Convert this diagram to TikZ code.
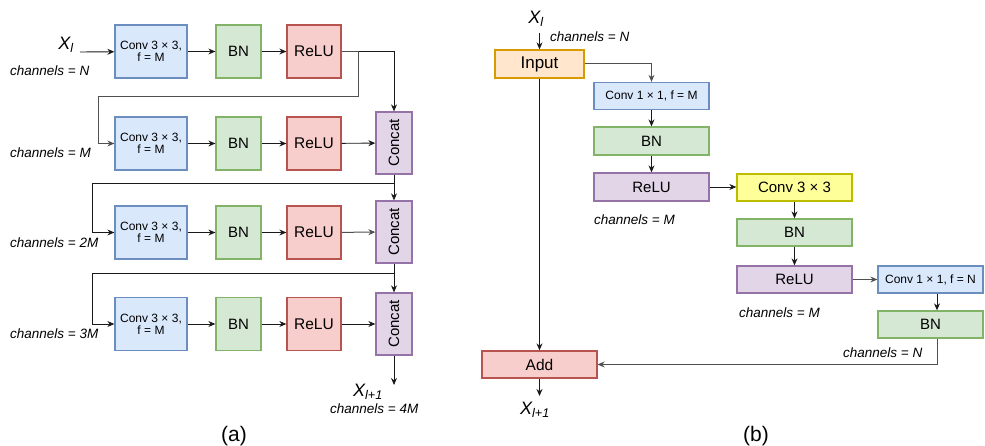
\documentclass[tikz,border=0pt]{standalone}
\usepackage{fontspec}
\usepackage{graphicx}
\setmainfont{Liberation Sans}
\usetikzlibrary{arrows.meta}
\newcommand\myfs[1]{\fontsize{#1}{#1}\selectfont}
\definecolor{bfill}{HTML}{DAE8FC}\definecolor{bdraw}{HTML}{6C8EBF}
\definecolor{gfill}{HTML}{D5E8D4}\definecolor{gdraw}{HTML}{82B366}
\definecolor{rfill}{HTML}{F8CECC}\definecolor{rdraw}{HTML}{B85450}
\definecolor{pfill}{HTML}{E1D5E7}\definecolor{pdraw}{HTML}{9673A6}
\definecolor{ofill}{HTML}{FFE6CC}\definecolor{odraw}{HTML}{D79B00}
\definecolor{yfill}{HTML}{FFFF99}\definecolor{ydraw}{HTML}{BDBD00}
\definecolor{lgray}{HTML}{505050}
\tikzset{
  bx/.style={draw, line width=1.3pt, inner sep=0pt, align=center, font=\myfs{12}},
  blu/.style={bx, fill=bfill, draw=bdraw},
  grn/.style={bx, fill=gfill, draw=gdraw, font=\myfs{15}},
  red/.style={bx, fill=rfill, draw=rdraw, font=\myfs{15.5}},
  pur/.style={bx, fill=pfill, draw=pdraw, font=\myfs{15}},
  org/.style={bx, fill=ofill, draw=odraw, font=\myfs{17}},
  yel/.style={bx, fill=yfill, draw=ydraw, font=\myfs{15}},
  abox/.style={minimum width=#1, minimum height=53},
  bbox/.style={minimum width=#1, minimum height=27},
  arr/.style={-{Stealth[length=7pt,width=6pt]}, line width=0.9pt, draw=black!90},
  garr/.style={arr, draw=lgray, line width=1pt},
  lbl/.style={font=\myfs{13.5}\itshape, anchor=west, inner sep=0pt},
  xl/.style={font=\myfs{18}\itshape, inner sep=0pt},
  captxt/.style={font=\myfs{21}, inner sep=0pt},
}
\begin{document}
\begin{tikzpicture}[x=1pt,y=-1pt]
\useasboundingbox (0,0) rectangle (985,446);
% ---------------- (a) ----------------
\foreach \r/\y in {1/51.5,2/143.5,3/232.5,4/324}{
  \node[blu, abox=72] (conv\r) at (151,\y) {Conv 3 × 3,\\f = M};
  \node[grn, abox=45] (bn\r) at (238.5,\y) {BN};
  \node[red, abox=54] (relu\r) at (314,\y) {ReLU};
  \draw[arr] (conv\r) -- (bn\r);
  \draw[arr] (bn\r) -- (relu\r);
}
\node[pur, minimum width=36, minimum height=62] (cat1) at (394,143) {\rotatebox{90}{Concat}};
\node[pur, minimum width=36, minimum height=62] (cat2) at (394,232) {\rotatebox{90}{Concat}};
\node[pur, minimum width=36, minimum height=62] (cat3) at (394,324) {\rotatebox{90}{Concat}};
\draw[arr] (relu2) -- (cat1);
\draw[garr] (relu3) -- (cat2);
\draw[arr] (relu4) -- (cat3);

\node[xl] (xa) at (66,45) {X\textsubscript{\itshape l}};
\coordinate (ina) at (80,52);
\draw[arr] (ina) -- (conv1);
\node[lbl] (chN) at (10,71) {channels = N};
\node[lbl] (chM) at (10,153) {channels = M};
\node[lbl] (ch2M) at (10,243) {channels = 2M};
\node[lbl] (ch3M) at (10,334) {channels = 3M};

\draw[arr] (relu1.east) -| (cat1.north);
\draw[garr] (relu1.east) -- (358,51.5) -- (358,97) -- (98,97) |- (conv2.west);
\draw[arr] (cat1.south) -- (cat2.north);
\draw[arr] (394,183) -- (92,183) |- (conv3.west);
\draw[arr] (cat2.south) -- (cat3.north);
\draw[arr] (394,273) -- (92,273) |- (conv4.west);
\coordinate (outa) at (394,385);
\draw[arr] (cat3.south) -- (outa);
\node[xl] (xa1) at (368,392) {X\textsubscript{\itshape l+1}};
\node[lbl] (ch4M) at (330,409) {channels = 4M};
\node[captxt] (capa) at (234,436) {(a)};

% ---------------- (b) ----------------
\node[org, minimum width=89, minimum height=28] (inp) at (539.5,64) {Input};
\node[xl] (xb) at (536,19) {X\textsubscript{\itshape l}};
\coordinate (inb) at (539.5,33);
\draw[arr] (inb) -- (inp.north);
\node[lbl] (chbN) at (550,37) {channels = N};

\node[blu, bbox=115] (c1) at (651.5,96) {Conv 1 × 1, f = M};
\node[grn, bbox=115, minimum height=28] (b1) at (651.5,141) {BN};
\node[pur, bbox=115, minimum height=28] (r1) at (651.5,187) {ReLU};
\node[lbl] (chbM1) at (594,220) {channels = M};
\draw[garr] (inp.east) -| (c1.north);
\draw[arr] (c1) -- (b1);
\draw[arr] (b1) -- (r1);

\node[yel, bbox=115] (c3) at (794.5,187.5) {Conv 3 × 3};
\node[grn, bbox=115] (b2) at (794.5,232.5) {BN};
\node[pur, bbox=115] (r2) at (794.5,279.5) {ReLU};
\node[lbl] (chbM2) at (739,313) {channels = M};
\draw[arr] (r1.east) -- (c3.west |- r1.east);
\draw[arr] (c3) -- (b2);
\draw[arr] (b2) -- (r2);

\node[blu, bbox=105] (c1n) at (930.5,279.5) {Conv 1 × 1, f = N};
\node[grn, bbox=105] (b3) at (930.5,324.5) {BN};
\node[lbl] (chbN2) at (843,353) {channels = N};
\draw[garr] (r2.east) -- (c1n.west);
\draw[arr] ([xshift=6.5]c1n.south) -- ([xshift=6.5]b3.north);

\node[red, bbox=115] (add) at (539.5,364.5) {Add};
\draw[arr] (inp.south) -- (add.north);
\draw[garr] ([xshift=6.5]b3.south) |- (add.east);
\coordinate (outb) at (539.5,396);
\draw[arr] (add.south) -- (outb);
\node[xl] (xb1) at (535,410) {X\textsubscript{\itshape l+1}};
\node[captxt] (capb) at (756,436) {(b)};
\end{tikzpicture}
\end{document}
